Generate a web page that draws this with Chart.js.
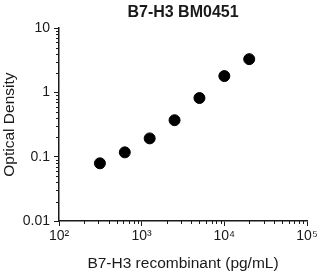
<!DOCTYPE html>
<html>
<head>
<meta charset="utf-8">
<script src="https://cdn.jsdelivr.net/npm/chart.js@4"></script>
<style>
  html, body { margin: 0; padding: 0; background: #fff; }
  #wrap { width: 324px; height: 273px; }
</style>
</head>
<body>
<div id="wrap"><canvas id="odChart" width="324" height="273"></canvas></div>
<script>
// data
const concentrations = [312.5, 625, 1250, 2500, 5000, 10000, 20000];
const odValues = [0.079, 0.117, 0.193, 0.37, 0.82, 1.8, 3.3];

const xTickValues = [100, 1000, 10000, 100000];
const xTickLabels = ['10²', '10³', '10⁴', '10⁵'];
const yTickValues = [0.01, 0.1, 1, 10];
const yTickLabels = ['0.01', '0.1', '1', '10'];

const FONT = '"Liberation Sans", Arial, sans-serif';
const INK = '#1a1a1a';

// short minor ticks between the decades
const minorTicks = {
  id: 'minorTicks',
  afterDraw(chart) {
    const c = chart.ctx;
    const x = chart.scales.x, y = chart.scales.y;
    c.save();
    c.strokeStyle = INK;
    c.lineWidth = 1;
    c.beginPath();
    for (let d = 100; d < 100000; d *= 10) {
      for (let k = 2; k <= 9; k++) {
        const px = Math.round(x.getPixelForValue(d * k)) + 0.5;
        c.moveTo(px, x.top);
        c.lineTo(px, x.top + 3);
      }
    }
    for (let d = 0.01; d < 10; d *= 10) {
      for (let k = 2; k <= 9; k++) {
        const py = Math.round(y.getPixelForValue(d * k)) + 0.5;
        c.moveTo(y.right, py);
        c.lineTo(y.right - 3, py);
      }
    }
    c.stroke();
    c.restore();
  }
};

const ctx = document.getElementById('odChart').getContext('2d');
new Chart(ctx, {
  type: 'scatter',
  data: {
    datasets: [{
      data: concentrations.map((c, i) => ({ x: c, y: odValues[i] })),
      backgroundColor: '#000',
      borderColor: '#000',
      pointRadius: 5.5,
      pointHoverRadius: 5.5
    }]
  },
  options: {
    responsive: false,
    animation: false,
    layout: { padding: { left: 0, right: 17, top: 0, bottom: 0 } },
    plugins: {
      legend: { display: false },
      tooltip: { enabled: false },
      title: {
        display: true,
        text: 'B7-H3 BM0451',
        fullSize: false,
        color: INK,
        font: { family: FONT, size: 16, weight: 'bold' },
        padding: { top: 3, bottom: 6 }
      }
    },
    scales: {
      x: {
        type: 'logarithmic',
        min: 100,
        max: 100000,
        afterBuildTicks: s => { s.ticks = xTickValues.map(v => ({ value: v })); },
        afterFit: s => { s.height = 52; },
        grid: { drawOnChartArea: false, tickLength: 5, color: INK, tickColor: INK },
        border: { color: INK, width: 1.5 },
        ticks: {
          color: INK,
          font: { family: FONT, size: 14 },
          padding: 2,
          maxRotation: 0,
          autoSkip: false,
          callback: (v) => xTickLabels[xTickValues.indexOf(v)]
        },
        title: {
          display: true,
          text: 'B7-H3 recombinant (pg/mL)',
          color: INK,
          font: { family: FONT, size: 15.5 },
          padding: { top: 4, bottom: 0 }
        }
      },
      y: {
        type: 'logarithmic',
        min: 0.01,
        max: 10,
        afterBuildTicks: s => { s.ticks = yTickValues.map(v => ({ value: v })); },
        afterFit: s => { s.width = 59; },
        grid: { drawOnChartArea: false, tickLength: 5, color: INK, tickColor: INK },
        border: { color: INK, width: 1.5 },
        ticks: {
          color: INK,
          font: { family: FONT, size: 14 },
          padding: 4,
          autoSkip: false,
          callback: (v) => yTickLabels[yTickValues.indexOf(v)]
        },
        title: {
          display: true,
          text: 'Optical Density',
          color: INK,
          font: { family: FONT, size: 15.5 },
          padding: { top: 0, bottom: 0 }
        }
      }
    }
  },
  plugins: [minorTicks]
});
</script>
</body>
</html>
